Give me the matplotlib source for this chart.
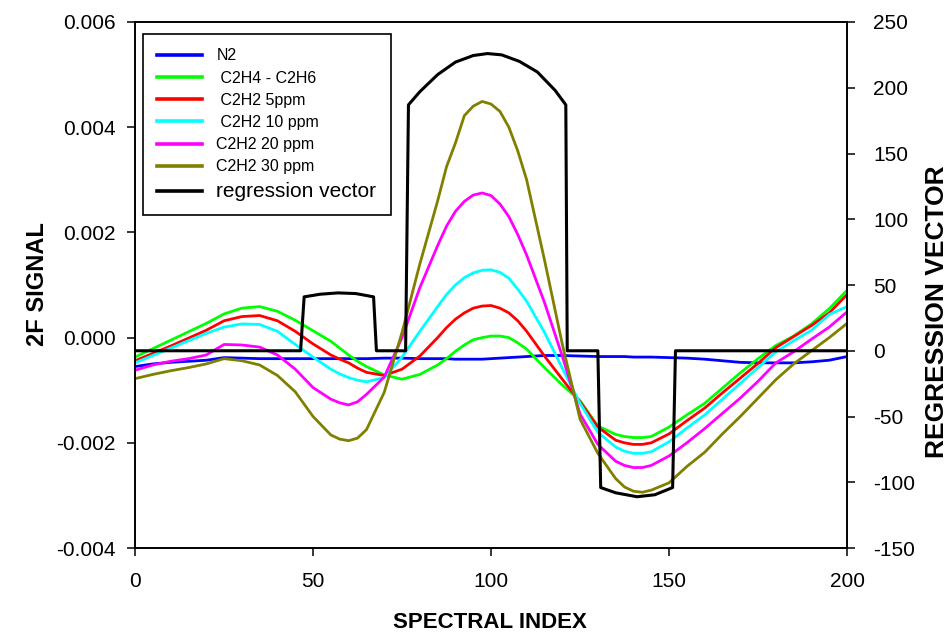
import matplotlib
matplotlib.use("Agg")
import matplotlib.pyplot as plt
from matplotlib.lines import Line2D

plt.rcParams['font.family'] = ['Liberation Sans', 'DejaVu Sans']
plt.rcParams['axes.unicode_minus'] = False

# spectral index shared by all 2F signal curves (denser around peaks)
spectral_index = [0, 5, 10, 15, 20, 25, 30, 35, 40, 45, 50, 55, 57.5, 60, 62.5, 65, 70, 75, 80, 85,
                  87.5, 90, 92.5, 95, 97.5, 100, 102.5, 105, 107.5, 110, 115, 120, 125, 130, 135,
                  137.5, 140, 142.5, 145, 150, 155, 160, 165, 170, 175, 180, 185, 190, 195, 200]

n2 = [-0.00055, -0.0005, -0.00047, -0.00045, -0.00043, -0.00038, -0.00039, -0.0004, -0.0004, -0.0004,
      -0.0004, -0.0004, -0.0004, -0.0004, -0.0004, -0.0004, -0.00039, -0.00039, -0.0004, -0.0004,
      -0.0004, -0.00041, -0.00041, -0.00041, -0.00041, -0.0004, -0.00039, -0.00038, -0.00037, -0.00036,
      -0.00034, -0.00034, -0.00035, -0.00036, -0.00036, -0.00036, -0.00037, -0.00037, -0.00037,
      -0.00038, -0.00039, -0.00041, -0.00044, -0.00047, -0.00048, -0.00048, -0.00048, -0.00046,
      -0.00043, -0.00036]
c2h4_c2h6 = [-0.00037, -0.00021, -0.00005, 0.00011, 0.00027, 0.00045, 0.00056, 0.00059, 0.0005, 0.00033,
             0.00013, -0.00007, -0.0002, -0.00033, -0.00045, -0.00055, -0.00071, -0.00079, -0.0007,
             -0.00052, -0.0004, -0.00026, -0.00014, -0.00004, 0.0, 0.00003, 0.00003, 0.0, -0.0001,
             -0.00022, -0.00057, -0.0009, -0.0012, -0.00168, -0.00184, -0.00188, -0.0019, -0.0019,
             -0.00188, -0.0017, -0.00147, -0.00125, -0.00096, -0.00067, -0.0004, -0.00015, 0.00003,
             0.00026, 0.00055, 0.0009]
c2h2_5 = [-0.00044, -0.0003, -0.00016, -0.00001, 0.00014, 0.00032, 0.0004, 0.00042, 0.00032, 0.00012,
          -0.00012, -0.00033, -0.00041, -0.00048, -0.00058, -0.00066, -0.00072, -0.0006, -0.00035, 0.0,
          0.00019, 0.00035, 0.00047, 0.00056, 0.0006, 0.00061, 0.00056, 0.00047, 0.00032, 0.00012,
          -0.00035, -0.00079, -0.00122, -0.0017, -0.00195, -0.002, -0.00203, -0.00203, -0.002,
          -0.00183, -0.00158, -0.00134, -0.00105, -0.00077, -0.00049, -0.00019, 0.00002, 0.00023,
          0.00047, 0.00082]
c2h2_10 = [-0.00048, -0.00034, -0.0002, -0.00006, 0.00008, 0.0002, 0.00026, 0.00025, 0.00012, -0.00013,
           -0.00037, -0.0006, -0.00069, -0.00076, -0.00081, -0.00084, -0.00076, -0.00037, 0.00012,
           0.00059, 0.00082, 0.001, 0.00114, 0.00123, 0.00128, 0.00129, 0.00124, 0.00113, 0.00092,
           0.00069, 0.0001, -0.00058, -0.00125, -0.0018, -0.00208, -0.00216, -0.0022, -0.0022,
           -0.00217, -0.00198, -0.00172, -0.00147, -0.00117, -0.00087, -0.00057, -0.00027, -0.00006,
           0.00014, 0.00044, 0.00059]
c2h2_20 = [-0.00062, -0.00052, -0.00045, -0.0004, -0.00033, -0.00013, -0.00014, -0.00018, -0.00033, -0.0006,
           -0.00095, -0.00117, -0.00124, -0.00128, -0.00122, -0.00108, -0.00075, 0.0, 0.00095, 0.00175,
           0.00212, 0.0024, 0.00259, 0.00271, 0.00275, 0.0027, 0.00254, 0.0023, 0.00196, 0.00157,
           0.00067, -0.00035, -0.00145, -0.00203, -0.00235, -0.00243, -0.00247, -0.00247, -0.00243,
           -0.00225, -0.002, -0.00173, -0.00144, -0.00115, -0.00083, -0.00048, -0.00027, -0.00003,
           0.0002, 0.00049]
c2h2_30 = [-0.00078, -0.0007, -0.00063, -0.00057, -0.0005, -0.0004, -0.00044, -0.00052, -0.00072, -0.00103,
           -0.0015, -0.00185, -0.00193, -0.00196, -0.00191, -0.00175, -0.00104, 0.0001, 0.0014, 0.0026,
           0.00325, 0.0037, 0.00422, 0.0044, 0.00449, 0.00444, 0.0043, 0.004, 0.00355, 0.003,
           0.00148, -0.00012, -0.00155, -0.0022, -0.00268, -0.00284, -0.00292, -0.00294, -0.0029,
           -0.00276, -0.00245, -0.00218, -0.00183, -0.0015, -0.00115, -0.0008, -0.0005, -0.00025,
           0.0, 0.00027]

# regression vector (right axis)
reg_x = [0, 46.5, 47.5, 52, 57, 62, 67, 67.8, 76, 76.8, 80, 85, 90, 95, 99, 103, 108, 113, 118, 121,
         121.4, 130, 130.8, 135, 141, 146, 151, 151.8, 200]
reg_y = [0, 0, 41, 43, 44, 43.5, 41, 0, 0, 187, 197, 210, 219.5, 224.5, 226, 225, 220, 212, 198, 187,
         0, 0, -104, -108, -111, -109.5, -104, 0, 0]

signals = [
    (n2, '#0000ff', 'N2'),
    (c2h4_c2h6, '#00ff00', ' C2H4 - C2H6'),
    (c2h2_5, '#ff0000', ' C2H2 5ppm'),
    (c2h2_10, '#00ffff', ' C2H2 10 ppm'),
    (c2h2_20, '#ff00ff', 'C2H2 20 ppm'),
    (c2h2_30, '#808000', 'C2H2 30 ppm'),
]

fig = plt.figure(figsize=(9.51, 6.34), dpi=100)
ax = fig.add_axes([0.142, 0.1356, 0.7487, 0.8297])
ax2 = ax.twinx()

handles = []
for values, color, label in signals:
    ax.plot(spectral_index, values, color=color, lw=2.0, solid_joinstyle='round')
    handles.append(Line2D([], [], color=color, lw=2.6))
ax2.plot(reg_x, reg_y, color='black', lw=2.2)
handles.append(Line2D([], [], color='black', lw=2.6))
labels = [s[2] for s in signals] + ['regression vector']

ax.set_xlim(0, 200)
ax.set_ylim(-0.004, 0.006)
ax2.set_ylim(-150, 250)
ax.set_xticks([0, 50, 100, 150, 200])
ax.set_yticks([-0.004, -0.002, 0.0, 0.002, 0.004, 0.006])
ax.set_yticklabels(['%.3f' % v for v in ax.get_yticks()])
ax2.set_yticks([-150, -100, -50, 0, 50, 100, 150, 200, 250])

for a in (ax, ax2):
    for sp in a.spines.values():
        sp.set_linewidth(1.2)
ax.tick_params(axis='both', direction='out', length=6, width=1.1, labelsize=15)
ax.tick_params(axis='y', pad=8)
ax.tick_params(axis='x', pad=11)
ax2.tick_params(axis='y', direction='out', length=6, width=1.1, labelsize=15, pad=13)

fig.text(0.515, 0.018, 'SPECTRAL INDEX', ha='center', va='center', fontsize=16, fontweight='bold')
fig.text(0.039, 0.552, '2F SIGNAL', ha='center', va='center', rotation=90, fontsize=17,
         fontweight='bold')
fig.text(0.985, 0.508, 'REGRESSION VECTOR', ha='center', va='center', rotation=90, fontsize=19,
         fontweight='bold')

leg = ax2.legend(handles, labels, loc='upper left', bbox_to_anchor=(0.011, 0.977),
                 fancybox=False, edgecolor='black', framealpha=1, fontsize=11.5,
                 handlelength=2.8, handletextpad=0.9, labelspacing=0.45, borderpad=0.9,
                 borderaxespad=0)
leg.get_frame().set_linewidth(1.2)
leg.get_texts()[-1].set_fontsize(15)

fig.savefig('out.png', dpi=100)
